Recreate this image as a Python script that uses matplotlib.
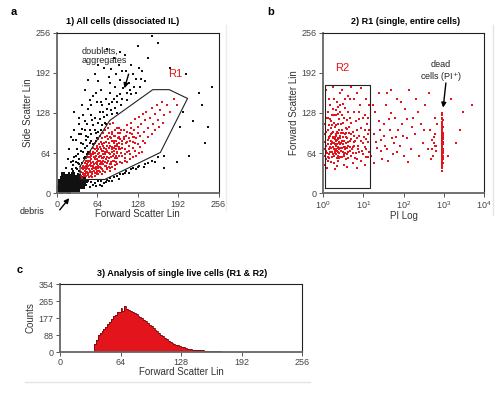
import numpy as np
import matplotlib
matplotlib.use("Agg")
import matplotlib.pyplot as plt
from matplotlib.lines import Line2D
from matplotlib.patches import FancyArrowPatch
from matplotlib.ticker import LogLocator, NullLocator

plt.rcParams['font.family'] = ['Liberation Sans', 'DejaVu Sans']

# ---- panel a: FSC / SSC dot plot ----
debris = [(5, 5), (8, 10), (10, 4), (12, 12), (15, 8), (18, 14), (20, 6), (22, 16), (25, 10), (28, 18),
          (30, 8), (33, 14), (35, 20), (38, 12), (40, 18), (6, 15), (9, 20), (12, 25), (16, 22), (19, 28),
          (23, 24), (26, 30), (29, 26), (32, 22), (36, 28), (4, 10), (7, 2), (11, 16), (14, 18), (17, 4),
          (21, 12), (24, 20), (27, 5), (31, 12), (34, 6), (37, 16), (42, 10), (44, 20), (13, 6), (16, 13),
          (19, 9), (22, 21), (26, 15), (30, 20), (14, 28), (10, 30), (8, 24), (25, 26), (33, 24), (39, 24),
          (6, 20), (3, 6), (18, 18), (28, 12), (12, 9), (20, 2), (24, 6), (36, 10), (41, 14), (43, 25)]

black_pts = [(22, 28), (25, 35), (28, 31), (30, 40), (33, 27), (35, 36), (26, 45), (31, 50), (36, 55), (24, 38),
             (29, 24), (34, 30), (40, 48), (34, 62), (27, 58), (41, 66), (44, 72), (32, 70), (38, 80), (45, 58),
             (20, 33), (23, 50), (36, 46), (32, 38), (46, 85), (50, 90), (48, 76), (30, 85), (35, 95), (52, 100),
             (55, 84), (58, 108), (40, 102), (45, 115), (60, 120), (62, 96), (66, 112), (55, 125), (68, 130), (50, 135),
             (72, 140), (63, 145), (75, 122), (78, 150), (58, 155), (80, 135), (85, 160), (70, 165), (88, 145), (92, 170),
             (65, 178), (96, 155), (100, 180), (82, 185), (105, 168), (110, 195), (75, 200), (98, 205), (115, 175), (120, 190),
             (90, 215), (125, 182), (108, 220), (130, 200), (60, 190), (45, 165), (40, 140), (35, 120), (28, 100), (52, 148),
             (86, 198), (112, 160), (102, 140), (118, 158), (132, 170), (140, 178), (95, 128), (88, 126), (78, 110), (70, 100),
             (64, 88), (57, 78), (50, 66), (43, 56), (128, 235), (145, 215), (160, 240), (20, 70), (25, 85), (15, 40),
             (18, 55), (135, 195), (100, 225), (80, 230),
             (30, 60), (33, 48), (38, 68), (42, 78), (46, 92), (48, 62), (52, 80), (54, 94), (56, 116), (60, 100),
             (62, 84), (66, 98), (68, 118), (72, 108), (74, 130), (76, 112), (80, 124), (82, 142), (86, 132), (90, 150),
             (92, 136), (96, 146), (100, 158), (104, 150), (108, 172), (112, 148), (116, 165), (122, 170), (126, 160),
             (134, 182), (38, 95), (42, 125), (48, 110), (55, 140), (62, 160), (70, 145), (84, 175), (94, 190),
             (104, 195), (118, 205), (66, 205), (50, 180), (28, 130), (22, 90), (18, 24), (26, 52), (36, 110), (44, 100),
             (200, 130), (215, 115), (240, 105), (225, 160), (205, 190), (180, 200), (235, 80), (190, 50), (210, 60),
             (170, 40), (230, 140), (195, 105), (150, 250), (245, 170),
             (45, 15), (50, 20), (55, 18), (60, 16), (65, 20), (70, 19), (75, 17), (80, 21), (85, 25), (90, 26),
             (95, 27), (100, 30), (105, 30), (110, 36), (115, 33), (120, 40), (125, 38), (130, 44), (138, 42), (145, 48),
             (150, 52), (155, 50), (48, 18), (58, 14), (68, 14), (78, 18), (88, 20), (98, 22), (52, 10), (62, 12),
             (72, 12), (82, 20), (108, 32), (118, 38), (128, 42), (140, 46), (160, 58), (170, 60), (42, 17), (46, 13)]

r1_pts = [(40, 25), (42, 30), (44, 35), (46, 27), (48, 40), (50, 32), (52, 45), (54, 28), (56, 38), (58, 50),
          (60, 33), (62, 42), (64, 55), (66, 30), (68, 47), (70, 60), (72, 38), (74, 52), (76, 65), (78, 44),
          (80, 58), (82, 72), (84, 35), (86, 50), (88, 66), (90, 80), (92, 45), (94, 60), (96, 75), (98, 90),
          (41, 38), (43, 42), (45, 48), (47, 33), (49, 52), (51, 38), (53, 58), (55, 44), (57, 62), (59, 36),
          (61, 54), (63, 68), (65, 40), (67, 58), (69, 74), (71, 46), (73, 62), (75, 80), (77, 50), (79, 68),
          (81, 86), (83, 56), (85, 76), (87, 94), (89, 60), (91, 84), (93, 100), (95, 66), (97, 88), (99, 104),
          (44, 28), (46, 44), (48, 34), (50, 50), (52, 36), (54, 60), (56, 30), (58, 44), (60, 64), (62, 48),
          (64, 36), (66, 70), (68, 52), (70, 40), (72, 78), (74, 56), (76, 44), (78, 82), (80, 48), (82, 64),
          (84, 90), (86, 58), (88, 74), (90, 52), (92, 92), (94, 70), (96, 56), (98, 80), (100, 96), (102, 64),
          (104, 84), (106, 100), (108, 70), (110, 92), (112, 108), (114, 76), (116, 96), (118, 112), (120, 82), (122, 100),
          (124, 118), (126, 88), (128, 106), (130, 122), (132, 92), (134, 110), (136, 126), (138, 98), (140, 116), (142, 130),
          (145, 104), (148, 120), (150, 136), (152, 110), (155, 126), (158, 140), (160, 116), (163, 132), (166, 145), (170, 124),
          (100, 70), (104, 60), (108, 56), (112, 66), (116, 62), (120, 72), (124, 68), (128, 78), (132, 74), (136, 84),
          (140, 80), (144, 90), (150, 94), (156, 100), (162, 106), (168, 112), (175, 140), (180, 130), (185, 150), (190, 140),
          (53, 66), (57, 72), (61, 80), (65, 86), (69, 92), (73, 96), (77, 100), (81, 104), (85, 110), (89, 112),
          (62, 38), (66, 44), (70, 50), (74, 46), (78, 54), (82, 42), (86, 46), (90, 68), (94, 50), (98, 60),
          (47, 56), (51, 62), (55, 54), (59, 58), (63, 76), (67, 64), (71, 68), (75, 72), (79, 76), (83, 80),
          (87, 84), (91, 72), (95, 78), (99, 74), (103, 78), (107, 86), (111, 82), (115, 88), (119, 94), (123, 90),
          (56, 26), (60, 28), (64, 32), (68, 34), (72, 30), (76, 34), (80, 38), (84, 40), (88, 42), (92, 38),
          (96, 46), (100, 50), (104, 48), (108, 52), (112, 50), (116, 54), (120, 58), (125, 60), (130, 64), (135, 66),
          (39, 28), (39, 34), (40, 40), (41, 32), (42, 44), (43, 27), (44, 40), (45, 31), (46, 52), (47, 38),
          (48, 46), (49, 29), (50, 44), (50, 57), (51, 26), (52, 52), (53, 34), (54, 48), (55, 62), (56, 34),
          (57, 50), (58, 40), (58, 66), (59, 46), (60, 56), (61, 40), (61, 70), (62, 60), (63, 30), (63, 50),
          (64, 46), (64, 72), (65, 62), (66, 52), (67, 36), (67, 78), (68, 60), (69, 42), (70, 70), (70, 82),
          (71, 56), (72, 48), (72, 88), (73, 68), (74, 36), (74, 76), (75, 58), (76, 90), (77, 62), (78, 70),
          (79, 40), (79, 92), (80, 66), (81, 52), (82, 80), (83, 96), (84, 62), (85, 46), (86, 88), (87, 70),
          (88, 98), (89, 52), (90, 62), (91, 92), (92, 76), (93, 56), (94, 84), (95, 104), (96, 64), (97, 96),
          (98, 70), (100, 86), (102, 100), (104, 72), (106, 90), (108, 62), (110, 80), (112, 98), (114, 68),
          (116, 84), (118, 104), (120, 90), (124, 80), (128, 96)]

gate_r1 = [(37, 43), (84, 116), (152, 165), (178, 165), (207, 151), (164, 65), (76, 22), (37, 22), (37, 43)]
lin_ticks = [0, 64, 128, 192, 256]

# ---- panel b: PI / FSC dot plot ----
r2_pts = [(1.1, 60), (1.2, 75), (1.3, 52), (1.4, 88), (1.5, 66), (1.6, 95), (1.7, 58), (1.8, 80), (1.9, 70), (2.0, 105),
          (2.1, 62), (2.2, 85), (2.3, 74), (2.4, 110), (2.5, 56), (2.6, 92), (2.8, 68), (3.0, 100), (3.2, 78), (3.4, 120),
          (3.6, 64), (3.8, 90), (4.0, 72), (4.3, 130), (4.6, 84), (5.0, 60), (5.5, 98), (6.0, 76), (6.5, 115), (7.0, 88),
          (8.0, 66), (9.0, 104), (10, 80), (11, 125), (12, 70), (13, 95), (14, 140),
          (1.1, 45), (1.2, 98), (1.3, 120), (1.4, 70), (1.5, 140), (1.6, 50), (1.7, 108), (1.8, 62), (1.9, 150), (2.0, 78),
          (2.1, 92), (2.2, 44), (2.3, 126), (2.4, 66), (2.5, 82), (2.6, 160), (2.8, 96), (3.0, 58), (3.2, 112), (3.4, 74),
          (3.6, 136), (3.8, 54), (4.0, 102), (4.3, 66), (4.6, 150), (5.0, 86), (5.5, 48), (6.0, 130), (6.5, 64), (7.0, 160),
          (8.0, 92), (9.0, 52), (10, 120), (11, 74), (12, 150), (13, 58), (14, 100),
          (1.15, 82), (1.25, 64), (1.35, 100), (1.45, 56), (1.55, 78), (1.65, 124), (1.75, 90), (1.85, 48), (1.95, 86),
          (2.05, 132), (2.15, 70), (2.25, 98), (2.35, 60), (2.45, 80), (2.55, 118), (2.7, 72), (2.9, 84), (3.1, 142),
          (3.3, 62), (3.5, 94), (3.7, 80), (3.9, 116), (4.2, 56), (4.5, 96), (4.8, 120), (5.2, 70), (5.8, 82), (6.2, 56),
          (6.8, 100), (7.5, 76), (8.5, 140), (9.5, 68), (10.5, 90), (11.5, 58), (12.5, 110), (13.5, 82),
          (1.05, 70), (1.1, 110), (1.2, 55), (1.3, 85), (1.4, 62), (1.5, 92), (1.6, 72), (1.7, 82), (1.8, 98), (1.9, 60),
          (2.0, 90), (2.1, 76), (2.2, 68), (2.3, 88), (2.4, 52), (2.5, 70), (2.6, 78), (2.8, 110), (3.0, 84), (3.2, 96),
          (3.4, 60), (3.6, 74), (3.8, 104), (4.0, 88), (4.3, 76), (4.6, 68), (5.0, 112), (5.5, 74), (6.0, 92), (7.0, 54),
          (8.0, 118), (9.0, 84), (10, 62), (11, 100), (12, 86), (13, 120), (14, 66), (1.2, 165), (1.8, 170), (3, 165),
          (5, 170), (9, 168), (2, 38), (4, 42), (1.4, 150), (2.2, 145), (6, 150), (1.3, 130), (1.6, 115), (2.7, 140),
          (4.2, 155), (8, 130), (1.25, 40), (3.3, 45), (7, 40), (11, 45),
          (1.15, 95), (1.2, 68), (1.3, 78), (1.35, 58), (1.45, 90), (1.5, 74), (1.55, 104), (1.6, 84), (1.65, 66),
          (1.7, 96), (1.75, 74), (1.8, 88), (1.85, 112), (1.9, 80), (1.95, 68), (2.0, 64), (2.05, 94), (2.1, 84),
          (2.15, 108), (2.2, 56), (2.25, 78), (2.3, 96), (2.35, 72), (2.4, 86), (2.45, 100), (2.5, 64), (2.6, 88),
          (2.7, 58), (2.8, 80), (2.9, 100), (3.0, 72), (3.1, 90), (3.2, 66), (3.3, 84), (3.5, 70), (3.7, 96),
          (3.9, 62), (4.1, 82), (4.4, 106), (4.7, 74), (5.1, 94), (5.6, 64), (6.3, 84), (7.2, 70), (1.25, 120),
          (1.5, 118), (1.75, 135), (2.1, 125), (2.6, 130), (3.5, 150), (1.4, 108), (1.9, 124), (2.4, 138), (3.0, 125)]

mid_pts = [(16, 60), (18, 95), (20, 130), (22, 72), (25, 160), (28, 85), (30, 55), (33, 110), (36, 140), (40, 70),
           (45, 100), (50, 165), (55, 62), (60, 120), (65, 90), (70, 150), (80, 75), (90, 110), (100, 60), (110, 135),
           (120, 88), (135, 165), (150, 70), (170, 120), (190, 95), (210, 150), (240, 60), (270, 110), (300, 80),
           (350, 140), (400, 70), (450, 100), (500, 85), (550, 60), (600, 120), (650, 75), (17, 140), (19, 48),
           (24, 115), (27, 68), (32, 92), (38, 160), (42, 52), (48, 128), (58, 80), (75, 100), (85, 145), (130, 50),
           (160, 105), (230, 130), (320, 100), (420, 160), (480, 55), (560, 90), (620, 95), (680, 110), (21, 82),
           (26, 100), (35, 76), (44, 118), (52, 88), (68, 66), (95, 92), (125, 118), (1500, 150), (2000, 80),
           (3000, 130), (5000, 140), (1300, 60), (2500, 100), (520, 70), (560, 80), (600, 76), (640, 68)]

dead_pts = [(900, 36), (920, 40), (880, 44), (940, 48), (900, 52), (960, 55), (910, 58), (890, 61), (930, 64),
            (950, 67), (900, 70), (920, 72), (880, 75), (940, 78), (905, 80), (960, 82), (915, 85), (890, 88),
            (935, 90), (950, 93), (900, 96), (920, 99), (885, 102), (945, 105), (910, 108), (930, 111), (895, 114),
            (955, 117), (915, 120), (905, 124), (925, 128), (900, 46), (930, 50), (910, 66), (925, 76), (895, 84),
            (940, 86), (905, 92), (920, 62), (935, 58), (890, 95), (915, 100), (945, 70), (900, 106), (920, 112),
            (880, 68), (950, 60), (910, 74), (930, 82), (900, 88), (925, 42), (915, 54), (935, 96), (905, 118),
            (920, 90), (895, 78), (940, 64), (910, 98), (930, 104), (925, 70)]

gate_r2_x = [1.12, 14.9, 14.9, 1.12, 1.12]
gate_r2_y = [8, 8, 173, 173, 8]

# ---- panel c: FSC histogram of R1 & R2 ----
hist_start = 36
hist_width = 2
hist_counts = [40, 62, 88, 100, 110, 122, 128, 145, 158, 172, 186, 192, 210, 208, 228, 215, 240, 224, 220, 214,
               210, 203, 198, 190, 182, 176, 166, 160, 150, 140, 134, 124, 114, 108, 98, 90, 82, 72, 66, 58,
               52, 48, 42, 38, 34, 30, 28, 24, 22, 18, 15, 14, 12, 12, 11, 10, 9, 8, 7, 6,
               6, 5, 5, 4, 4, 3, 3, 2]
count_ticks = [0, 88, 177, 265, 354]

RED = '#e3141c'
W, H = 500, 395


def px_box(l, t, r, b):
    return [l / W, 1 - b / H, (r - l) / W, (b - t) / H]


def style(ax):
    for s in ['left', 'bottom']:
        ax.spines[s].set_color('#666666')
        ax.spines[s].set_linewidth(1.3)
    for s in ['top', 'right']:
        ax.spines[s].set_color('#222222')
        ax.spines[s].set_linewidth(0.8)
    ax.tick_params(labelsize=6.5, labelcolor='#444444', length=3, width=0.7, color='#555555', pad=1.5)


fig = plt.figure(figsize=(5.0, 3.95), dpi=100)

# panel a
ax1 = fig.add_axes(px_box(56.7, 32.5, 218.5, 193.3))
style(ax1)
d = np.array(debris)
b = np.array(black_pts)
r = np.array(r1_pts)
ax1.scatter(d[:, 0], d[:, 1], s=6, c='#111111', marker='s', linewidths=0)
ax1.scatter(b[:, 0], b[:, 1], s=1.8, c='#111111', marker='s', linewidths=0)
ax1.scatter(r[:, 0], r[:, 1], s=2.8, c=RED, marker='s', linewidths=0)
g = np.array(gate_r1)
ax1.plot(g[:, 0], g[:, 1], color='#222222', lw=0.8)
ax1.set_xlim(0, 256)
ax1.set_ylim(0, 256)
ax1.set_xticks(lin_ticks)
ax1.set_yticks(lin_ticks)
ax1.set_xlabel('Forward Scatter Lin', fontsize=7, color='#333333', labelpad=0)
ax1.set_ylabel('Side Scatter Lin', fontsize=7, color='#333333', labelpad=2)
ax1.text(177, 190, 'R1', color=RED, fontsize=8, va='center')
ax1.text(40, 234, 'doublets,\naggregates', fontsize=6.5, color='#222222', va='top', linespacing=1.1)
ax1.annotate('', xy=(106, 163), xytext=(115, 194),
             arrowprops=dict(arrowstyle='-|>', color='black', lw=1.0, mutation_scale=7))

# panel b
ax2 = fig.add_axes(px_box(323, 32.5, 484, 193.3))
style(ax2)
p2 = np.array(r2_pts)
m2 = np.array(mid_pts)
k2 = np.array(dead_pts)
ax2.scatter(p2[:, 0], p2[:, 1], s=2.8, c=RED, marker='s', linewidths=0)
ax2.scatter(m2[:, 0], m2[:, 1], s=1.8, c=RED, marker='s', linewidths=0)
ax2.scatter(k2[:, 0], k2[:, 1], s=4, c=RED, marker='s', linewidths=0)
ax2.plot(gate_r2_x, gate_r2_y, color='#222222', lw=0.8)
ax2.set_xscale('log')
ax2.set_xlim(1, 1e4)
ax2.set_ylim(0, 256)
ax2.xaxis.set_major_locator(LogLocator(base=10, numticks=6))
ax2.xaxis.set_minor_locator(NullLocator())
ax2.set_yticks(lin_ticks)
ax2.set_xlabel('PI Log', fontsize=7, color='#333333', labelpad=0)
ax2.set_ylabel('Forward Scatter Lin', fontsize=7, color='#333333', labelpad=2)
ax2.text(2.0, 199, 'R2', color=RED, fontsize=8, va='center')
ax2.text(850, 212, 'dead\ncells (PI$^{+}$)', fontsize=6.5, color='#222222', ha='center', va='top',
         linespacing=1.1)
ax2.annotate('', xy=(950, 132), xytext=(1150, 180),
             arrowprops=dict(arrowstyle='-|>', color='black', lw=1.0, mutation_scale=7))

# panel c
ax3 = fig.add_axes(px_box(60, 284, 302, 352))
style(ax3)
edges = hist_start + hist_width * np.arange(len(hist_counts) + 1)
ax3.stairs(hist_counts, edges, fill=True, color=RED, linewidth=0)
ax3.stairs(hist_counts, edges, color='#7a0a0a', linewidth=0.6)
ax3.set_xlim(0, 256)
ax3.set_ylim(0, 354)
ax3.set_xticks(lin_ticks)
ax3.set_yticks(count_ticks)
ax3.set_xlabel('Forward Scatter Lin', fontsize=7, color='#333333', labelpad=0)
ax3.set_ylabel('Counts', fontsize=7, color='#333333', labelpad=2)

# titles and panel letters
fig.text(123 / W, 1 - 21 / H, '1) All cells (dissociated IL)', fontsize=6.5, fontweight='bold',
         ha='center', va='center')
fig.text(406 / W, 1 - 21 / H, '2) R1 (single, entire cells)', fontsize=6.5, fontweight='bold',
         ha='center', va='center')
fig.text(182 / W, 1 - 273 / H, '3) Analysis of single live cells (R1 & R2)', fontsize=6.5, fontweight='bold',
         ha='center', va='center')
fig.text(14 / W, 1 - 12 / H, 'a', fontsize=8, fontweight='bold', ha='center', va='center')
fig.text(271 / W, 1 - 12 / H, 'b', fontsize=8, fontweight='bold', ha='center', va='center')
fig.text(20 / W, 1 - 270 / H, 'c', fontsize=8, fontweight='bold', ha='center', va='center')

# debris label with arrow (figure pixel coords)
fig.text(20 / W, 1 - 212 / H, 'debris', fontsize=6.5, color='#222222', va='center')
fig.add_artist(FancyArrowPatch((58 / W, 1 - 212 / H), (71 / W, 1 - 196 / H),
                               transform=fig.transFigure, arrowstyle='-|>',
                               mutation_scale=7, color='black', lw=1.0))

# faint separators
fig.add_artist(Line2D([226 / W, 226 / W], [1 - 25 / H, 1 - 210 / H], color='#ececec', lw=1))
fig.add_artist(Line2D([493 / W, 493 / W], [1 - 25 / H, 1 - 215 / H], color='#e4e4e4', lw=1))
fig.add_artist(Line2D([25 / W, 310 / W], [1 - 382 / H, 1 - 382 / H], color='#e4e4e4', lw=1))

fig.savefig('out.png', dpi=100)
